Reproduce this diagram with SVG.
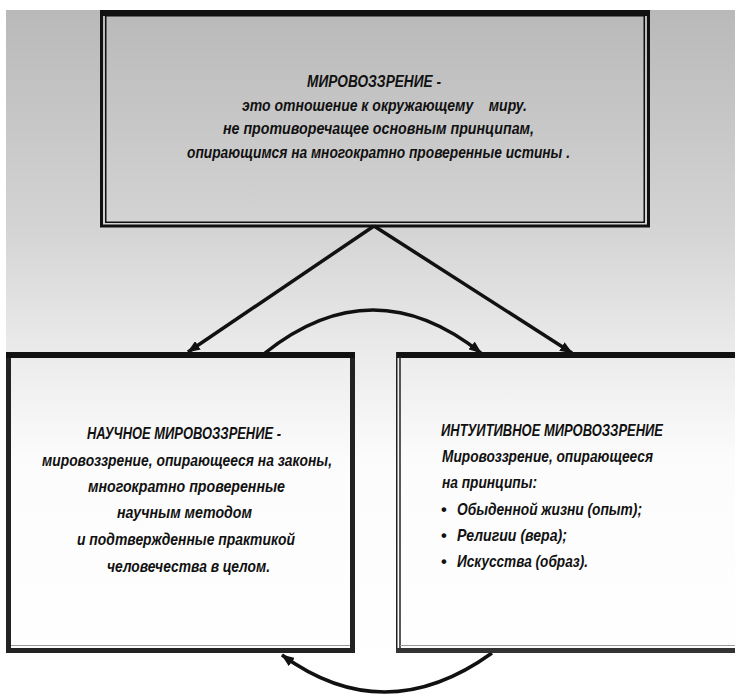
<svg xmlns="http://www.w3.org/2000/svg" width="735" height="694" viewBox="0 0 735 694">
<defs>
<linearGradient id="bg" x1="0" y1="10" x2="0" y2="694" gradientUnits="userSpaceOnUse">
<stop offset="0" stop-color="#b9b9b9"/>
<stop offset="0.32" stop-color="#d4d4d4"/>
<stop offset="0.5" stop-color="#ebebeb"/>
<stop offset="0.66" stop-color="#fcfcfc"/>
<stop offset="1" stop-color="#ffffff"/>
</linearGradient>
<marker id="ah" markerUnits="userSpaceOnUse" markerWidth="13" markerHeight="10" refX="12" refY="5" orient="auto">
<path d="M0,0 L13,5 L0,10 z" fill="#111"/>
</marker>
</defs>
<style>
text{font-family:"Liberation Sans","DejaVu Sans",sans-serif;font-style:italic;font-weight:bold;font-size:16.5px;fill:#111}
.t{font-size:16px}
.b{font-style:normal}
.con{fill:none;stroke:#111;stroke-width:3.5}
</style>
<rect x="0" y="0" width="735" height="694" fill="#fff"/>
<rect x="6" y="10" width="729" height="684" fill="url(#bg)"/>

<g id="connectors">
<path class="con" d="M374,226 L188,352" marker-end="url(#ah)"/>
<path class="con" d="M374,226 L572,353" marker-end="url(#ah)"/>
<path class="con" d="M265,353 Q373,267 481,353" marker-end="url(#ah)"/>
<path class="con" d="M492,653 Q385,730 282,655" marker-end="url(#ah)"/>
</g>

<g id="node-top">
<rect x="100" y="10" width="550" height="6" fill="#111"/>
<rect x="101.5" y="11.5" width="547" height="214.5" fill="none" stroke="#111" stroke-width="3"/>
<rect x="105.75" y="15.75" width="538.5" height="206.5" fill="none" stroke="#111" stroke-width="1.5"/>
<text class="t" x="307" y="87" textLength="134" lengthAdjust="spacingAndGlyphs">МИРОВОЗЗРЕНИЕ -</text>
<text class="t" x="242" y="111" textLength="285" lengthAdjust="spacingAndGlyphs" xml:space="preserve" style="white-space:pre">это отношение к окружающему    миру.</text>
<text class="t" x="223" y="134" textLength="311" lengthAdjust="spacingAndGlyphs">не противоречащее основным принципам,</text>
<text class="t" x="187" y="158" textLength="383" lengthAdjust="spacingAndGlyphs">опирающимся на многократно проверенные истины .</text>
</g>

<g id="node-left">
<rect x="8.5" y="354.5" width="344" height="296" fill="none" stroke="#222" stroke-width="5"/>
<rect x="6" y="352" width="349" height="6" fill="#111"/>
<line x1="11" y1="645.5" x2="350" y2="645.5" stroke="#999" stroke-width="1"/>
<text x="87" y="439" textLength="194" lengthAdjust="spacingAndGlyphs">НАУЧНОЕ МИРОВОЗЗРЕНИЕ -</text>
<text x="42" y="466" textLength="290" lengthAdjust="spacingAndGlyphs">мировоззрение, опирающееся на законы,</text>
<text x="88" y="492" textLength="197" lengthAdjust="spacingAndGlyphs">многократно проверенные</text>
<text x="117" y="518" textLength="135" lengthAdjust="spacingAndGlyphs">научным методом</text>
<text x="77" y="545" textLength="218" lengthAdjust="spacingAndGlyphs">и подтвержденные практикой</text>
<text x="107" y="572" textLength="163" lengthAdjust="spacingAndGlyphs">человечества в целом.</text>
</g>

<g id="node-right">
<rect x="396" y="352" width="339" height="6" fill="#111"/>
<line x1="396.75" y1="352" x2="396.75" y2="653" stroke="#222" stroke-width="1.5"/>
<line x1="400" y1="356" x2="400" y2="648" stroke="#222" stroke-width="1.5"/>
<rect x="396" y="648" width="339" height="5" fill="#333"/>
<line x1="400" y1="645.5" x2="735" y2="645.5" stroke="#999" stroke-width="1"/>
<text x="441" y="436" textLength="222" lengthAdjust="spacingAndGlyphs">ИНТУИТИВНОЕ МИРОВОЗЗРЕНИЕ</text>
<text x="442" y="462" textLength="211" lengthAdjust="spacingAndGlyphs">Мировоззрение, опирающееся</text>
<text x="442" y="488" textLength="95" lengthAdjust="spacingAndGlyphs">на принципы:</text>
<text class="b" x="441" y="515">•</text>
<text x="457" y="515" textLength="185" lengthAdjust="spacingAndGlyphs">Обыденной жизни (опыт);</text>
<text class="b" x="441" y="541">•</text>
<text x="457" y="541" textLength="110" lengthAdjust="spacingAndGlyphs">Религии (вера);</text>
<text class="b" x="441" y="567">•</text>
<text x="457" y="567" textLength="131" lengthAdjust="spacingAndGlyphs">Искусства (образ).</text>
</g>
</svg>
